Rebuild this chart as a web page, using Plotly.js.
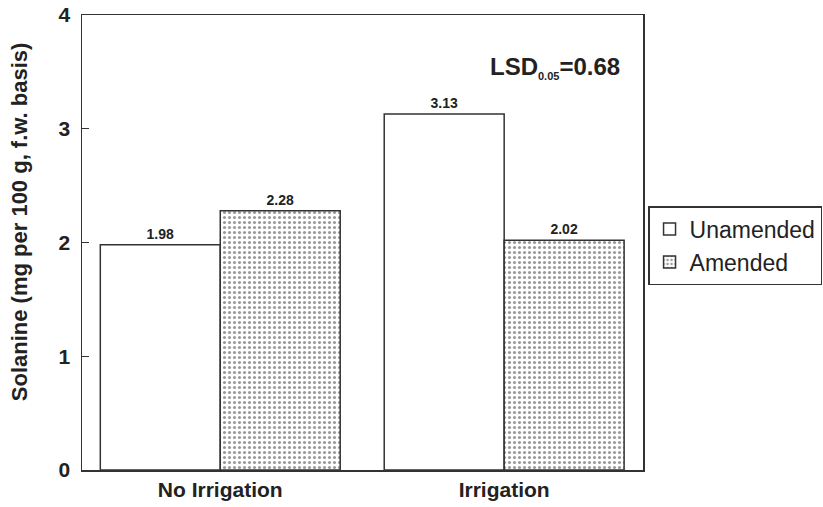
<!DOCTYPE html>
<html>
<head>
<meta charset="utf-8">
<script src="https://cdn.plot.ly/plotly-3.0.1.min.js"></script>
<style>html,body{margin:0;padding:0;background:#fff;}#chart{width:823px;height:507px;}</style>
</head>
<body>
<div id="chart"></div>
<script>
var categories = ["No Irrigation", "Irrigation"];
var unamended = [1.98, 3.13];
var amended = [2.28, 2.02];
var seriesNames = ["Unamended", "Amended"];
var yTicks = [0, 1, 2, 3, 4];
var yTitle = "Solanine (mg per 100 g, f.w. basis)";

var fontFam = "Liberation Sans, Arial, sans-serif";
var ink = "#222";

var traces = [
  {
    type: "bar", name: seriesNames[0], x: categories, y: unamended,
    text: unamended.map(function(v){return v.toFixed(2);}),
    textposition: "outside", cliponaxis: false,
    textfont: {family: fontFam, size: 14, color: ink, weight: "bold"},
    marker: {color: "#fff", line: {color: "#333", width: 1.5}}
  },
  {
    type: "bar", name: seriesNames[1], x: categories, y: amended,
    text: amended.map(function(v){return v.toFixed(2);}),
    textposition: "outside", cliponaxis: false,
    textfont: {family: fontFam, size: 14, color: ink, weight: "bold"},
    marker: {color: "#fff", line: {color: "#333", width: 1.5},
      pattern: {shape: ".", fgcolor: "#9a9a9a", bgcolor: "#fff", size: 5, solidity: 0.3}}
  }
];

var layout = {
  width: 823, height: 507,
  margin: {l: 82, r: 180, t: 15, b: 37, autoexpand: false},
  paper_bgcolor: "#fff", plot_bgcolor: "#fff",
  barmode: "group", bargap: 0.155, bargroupgap: 0,
  showlegend: true,
  font: {family: fontFam, color: ink},
  xaxis: {
    range: [-0.487, 1.489], showgrid: false, zeroline: false,
    showline: true, linecolor: "#333", linewidth: 1.5, mirror: true,
    ticks: "", tickfont: {family: fontFam, size: 21, color: ink, weight: "bold"}
  },
  yaxis: {
    range: [0, 4], tickvals: yTicks, showgrid: false, zeroline: false,
    showline: true, linecolor: "#333", linewidth: 1.5, mirror: true,
    ticks: "inside", ticklen: 7, tickwidth: 1.2, tickcolor: "#333",
    ticklabelstandoff: 6,
    tickfont: {family: fontFam, size: 21, color: ink, weight: "bold"}
  },
  legend: {
    x: 1.009, y: 0.58, xanchor: "left", yanchor: "top",
    bordercolor: "#333", borderwidth: 1.5, bgcolor: "#fff",
    font: {family: fontFam, size: 23, color: ink},
    itemwidth: 30
  },
  annotations: [
    {xref: "paper", yref: "paper", x: -0.112, y: 0.545, xanchor: "center", yanchor: "middle",
     textangle: -90, text: yTitle, showarrow: false,
     font: {family: fontFam, size: 22, color: ink, weight: "bold"}},
    {xref: "paper", yref: "paper", x: 0.962, y: 0.885, xanchor: "right", yanchor: "middle",
     text: "LSD<sub><span style='font-size:11px'>0.05</span></sub>=0.68", showarrow: false,
     font: {family: fontFam, size: 24, color: ink, weight: "bold"}}
  ]
};

Plotly.newPlot("chart", traces, layout, {displayModeBar: false, staticPlot: true});
</script>
</body>
</html>
